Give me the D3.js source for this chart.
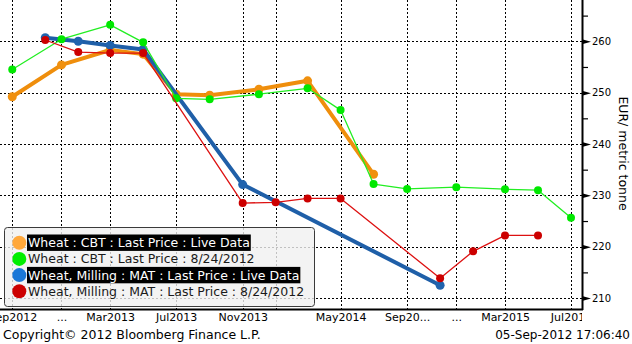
<!DOCTYPE html>
<html>
<head>
<meta charset="utf-8">
<script src="https://cdn.jsdelivr.net/npm/d3@7"></script>
<style>
  html, body { margin: 0; padding: 0; background: #ffffff; overflow: hidden; }
  svg { display: block; font-family: "DejaVu Sans", sans-serif; }
</style>
</head>
<body>
<svg id="chart" width="632" height="344"></svg>
<script>
// Wheat futures curves: contract month -> last price (EUR / metric tonne)
const cbtLiveMonths = ["2012-09","2012-12","2013-03","2013-05","2013-07","2013-09","2013-12","2014-03","2014-07"];
const cbtLiveValues = [249.2, 255.4, 258.3, 257.5, 249.7, 249.5, 250.65, 252.3, 234.1];

const cbtPrevMonths = ["2012-09","2012-12","2013-03","2013-05","2013-07","2013-09","2013-12","2014-03","2014-05","2014-07","2014-09","2014-12","2015-03","2015-05","2015-07"];
const cbtPrevValues = [254.5, 260.4, 263.2, 259.8, 248.9, 248.7, 249.7, 250.85, 246.6, 232.2, 231.25, 231.6, 231.2, 231.0, 225.65];

const matLiveMonths = ["2012-11","2013-01","2013-03","2013-05","2013-11","2014-11"];
const matLiveValues = [260.7, 260.0, 259.2, 258.4, 232.1, 212.5];

const matPrevMonths = ["2012-11","2013-01","2013-03","2013-05","2013-11","2014-01","2014-03","2014-05","2014-11","2015-01","2015-03","2015-05"];
const matPrevValues = [260.25, 257.9, 257.7, 257.7, 228.5, 228.65, 229.4, 229.4, 213.85, 219.1, 222.2, 222.2];

const axisMonths = ["2012-09","2012-12","2013-03","2013-07","2013-11","2014-01","2014-05","2014-09","2014-12","2015-03","2015-07"];
const axisLabels = ["Sep2012","...","Mar2013","Jul2013","Nov2013","","May2014","Sep20...","...","Mar2015","Jul2015"];

const yMajorTicks = [210, 220, 230, 240, 250, 260];
const yMinorTicks = [215, 225, 235, 245, 255, 265];

const legendLabels = [
  "Wheat : CBT : Last Price : Live Data",
  "Wheat : CBT : Last Price : 8/24/2012",
  "Wheat, Milling : MAT : Last Price : Live Data",
  "Wheat, Milling : MAT : Last Price : 8/24/2012"
];

const parseMonth = d3.utcParse("%Y-%m");
const zip = (months, values) => months.map((m, i) => ({ date: parseMonth(m), value: values[i] }));

const series = [
  { name: legendLabels[0], data: zip(cbtLiveMonths, cbtLiveValues), line: "#ef8e0c", dot: "#f0900e", key: "#ffa83c", width: 4, r: 4.5, highlight: true },
  { name: legendLabels[2], data: zip(matLiveMonths, matLiveValues), line: "#1f5fa8", dot: "#2063ae", key: "#1b78d8", width: 4, r: 4.5, highlight: true },
  { name: legendLabels[1], data: zip(cbtPrevMonths, cbtPrevValues), line: "#22ee22", dot: "#00e800", key: "#00ee00", width: 1.3, r: 4, highlight: false },
  { name: legendLabels[3], data: zip(matPrevMonths, matPrevValues), line: "#dd1111", dot: "#cc0000", key: "#cc0000", width: 1.3, r: 4, highlight: false }
];
const legendOrder = [0, 2, 1, 3];

const svg = d3.select("#chart");
const plot = { left: 0, top: 0, right: 582, bottom: 309 };

const x = d3.scaleUtc()
  .domain([new Date(Date.UTC(2012, 7, 9, 8)), new Date(Date.UTC(2015, 6, 21, 8))])
  .range([plot.left, plot.right]);
const y = d3.scaleLinear()
  .domain([207.87, 268.04])
  .range([plot.bottom, plot.top]);

// dotted grid
const grid = svg.append("g").attr("class", "grid")
  .attr("stroke", "#000").attr("stroke-width", 1).attr("stroke-dasharray", "2,2").attr("shape-rendering", "crispEdges");
grid.selectAll("line.h").data(yMajorTicks).join("line")
  .attr("class", "h")
  .attr("x1", plot.left).attr("x2", plot.right)
  .attr("y1", d => Math.round(y(d)) + 0.5).attr("y2", d => Math.round(y(d)) + 0.5);
grid.selectAll("line.v").data(axisMonths.map(parseMonth)).join("line")
  .attr("class", "v")
  .attr("x1", d => Math.round(x(d)) + 0.5).attr("x2", d => Math.round(x(d)) + 0.5)
  .attr("y1", plot.top).attr("y2", plot.bottom);

// series lines and markers
const lineGen = d3.line().x(d => x(d.date)).y(d => y(d.value));
series.forEach(s => {
  const g = svg.append("g");
  g.append("path").datum(s.data)
    .attr("d", lineGen)
    .attr("fill", "none")
    .attr("stroke", s.line)
    .attr("stroke-width", s.width)
    .attr("stroke-linejoin", "round");
  g.selectAll("circle").data(s.data).join("circle")
    .attr("cx", d => x(d.date))
    .attr("cy", d => y(d.value))
    .attr("r", s.r)
    .attr("fill", s.dot);
});

// bottom axis (labels clipped at the right-hand axis line)
svg.append("clipPath").attr("id", "xclip")
  .append("rect").attr("x", -40).attr("y", -2).attr("width", plot.right + 40).attr("height", 40);
const xAxis = d3.axisBottom(x)
  .tickValues(axisMonths.map(parseMonth))
  .tickFormat((d, i) => axisLabels[i])
  .tickSize(0)
  .tickPadding(4);
const xg = svg.append("g")
  .attr("transform", `translate(0,${plot.bottom})`)
  .attr("clip-path", "url(#xclip)")
  .call(xAxis)
  .attr("font-family", null)
  .attr("font-size", 11);
xg.select(".domain").remove();
xg.selectAll("text").attr("fill", "#000");
svg.append("line")
  .attr("x1", plot.left).attr("x2", plot.right + 1)
  .attr("y1", plot.bottom + 0.5).attr("y2", plot.bottom + 0.5)
  .attr("stroke", "#000").attr("stroke-width", 2);

// right axis
svg.append("line")
  .attr("x1", plot.right + 0.5).attr("x2", plot.right + 0.5)
  .attr("y1", plot.top).attr("y2", plot.bottom + 1)
  .attr("stroke", "#000").attr("stroke-width", 2);
const yMinor = d3.axisRight(y).tickValues(yMinorTicks).tickSize(6).tickFormat("");
const ymg = svg.append("g").attr("transform", `translate(${plot.right},0)`).call(yMinor);
ymg.select(".domain").remove();
ymg.selectAll("line").attr("stroke-width", 1.2);

const yAxis = d3.axisRight(y).tickValues(yMajorTicks).tickSize(0).tickPadding(10).tickFormat(d3.format("d"));
const yg = svg.append("g").attr("transform", `translate(${plot.right},0)`)
  .call(yAxis)
  .attr("font-family", null)
  .attr("font-size", 10);
yg.select(".domain").remove();
yg.selectAll("text").attr("fill", "#000");
yg.selectAll(".tick").append("path")
  .attr("d", "M0,-2.5L9,0L0,2.5Z")
  .attr("fill", "#000");

svg.append("text")
  .attr("transform", `translate(622,${(95 + 212) / 2}) rotate(90)`)
  .attr("text-anchor", "middle")
  .attr("dominant-baseline", "middle")
  .attr("font-size", 12.5)
  .attr("fill", "#000")
  .text("EUR/ metric tonne");

// legend
const legend = svg.append("g").attr("class", "legend");
legend.append("rect")
  .attr("x", 4.5).attr("y", 227.5).attr("width", 310).attr("height", 79)
  .attr("rx", 3).attr("ry", 3)
  .attr("fill", "#f0f0f0").attr("fill-opacity", 0.8)
  .attr("stroke", "#3a3a3a").attr("stroke-width", 1);
legendOrder.forEach((si, row) => {
  const s = series[si];
  const cy = 242.7 + row * 16.2;
  const label = legend.append("text")
    .attr("x", 28).attr("y", cy)
    .attr("dominant-baseline", "central")
    .attr("font-size", 12.5)
    .attr("fill", s.highlight ? "#ffffff" : "#1a1a1a")
    .text(s.name);
  if (s.highlight) {
    const w = label.node().getComputedTextLength();
    legend.insert("rect", () => label.node())
      .attr("x", 27).attr("y", cy - 8.2).attr("width", w + 2).attr("height", 16.4)
      .attr("fill", "#000");
  }
  legend.append("circle")
    .attr("cx", 19.3).attr("cy", cy).attr("r", 7)
    .attr("fill", s.key);
});

// footer
svg.append("text")
  .attr("x", 3).attr("y", 339)
  .attr("font-size", 12.5).attr("fill", "#000")
  .text("Copyright\u00a9 2012 Bloomberg Finance L.P.");
svg.append("text")
  .attr("x", 630).attr("y", 339)
  .attr("text-anchor", "end")
  .attr("font-size", 12).attr("fill", "#000")
  .text("05-Sep-2012 17:06:40");
</script>
</body>
</html>
